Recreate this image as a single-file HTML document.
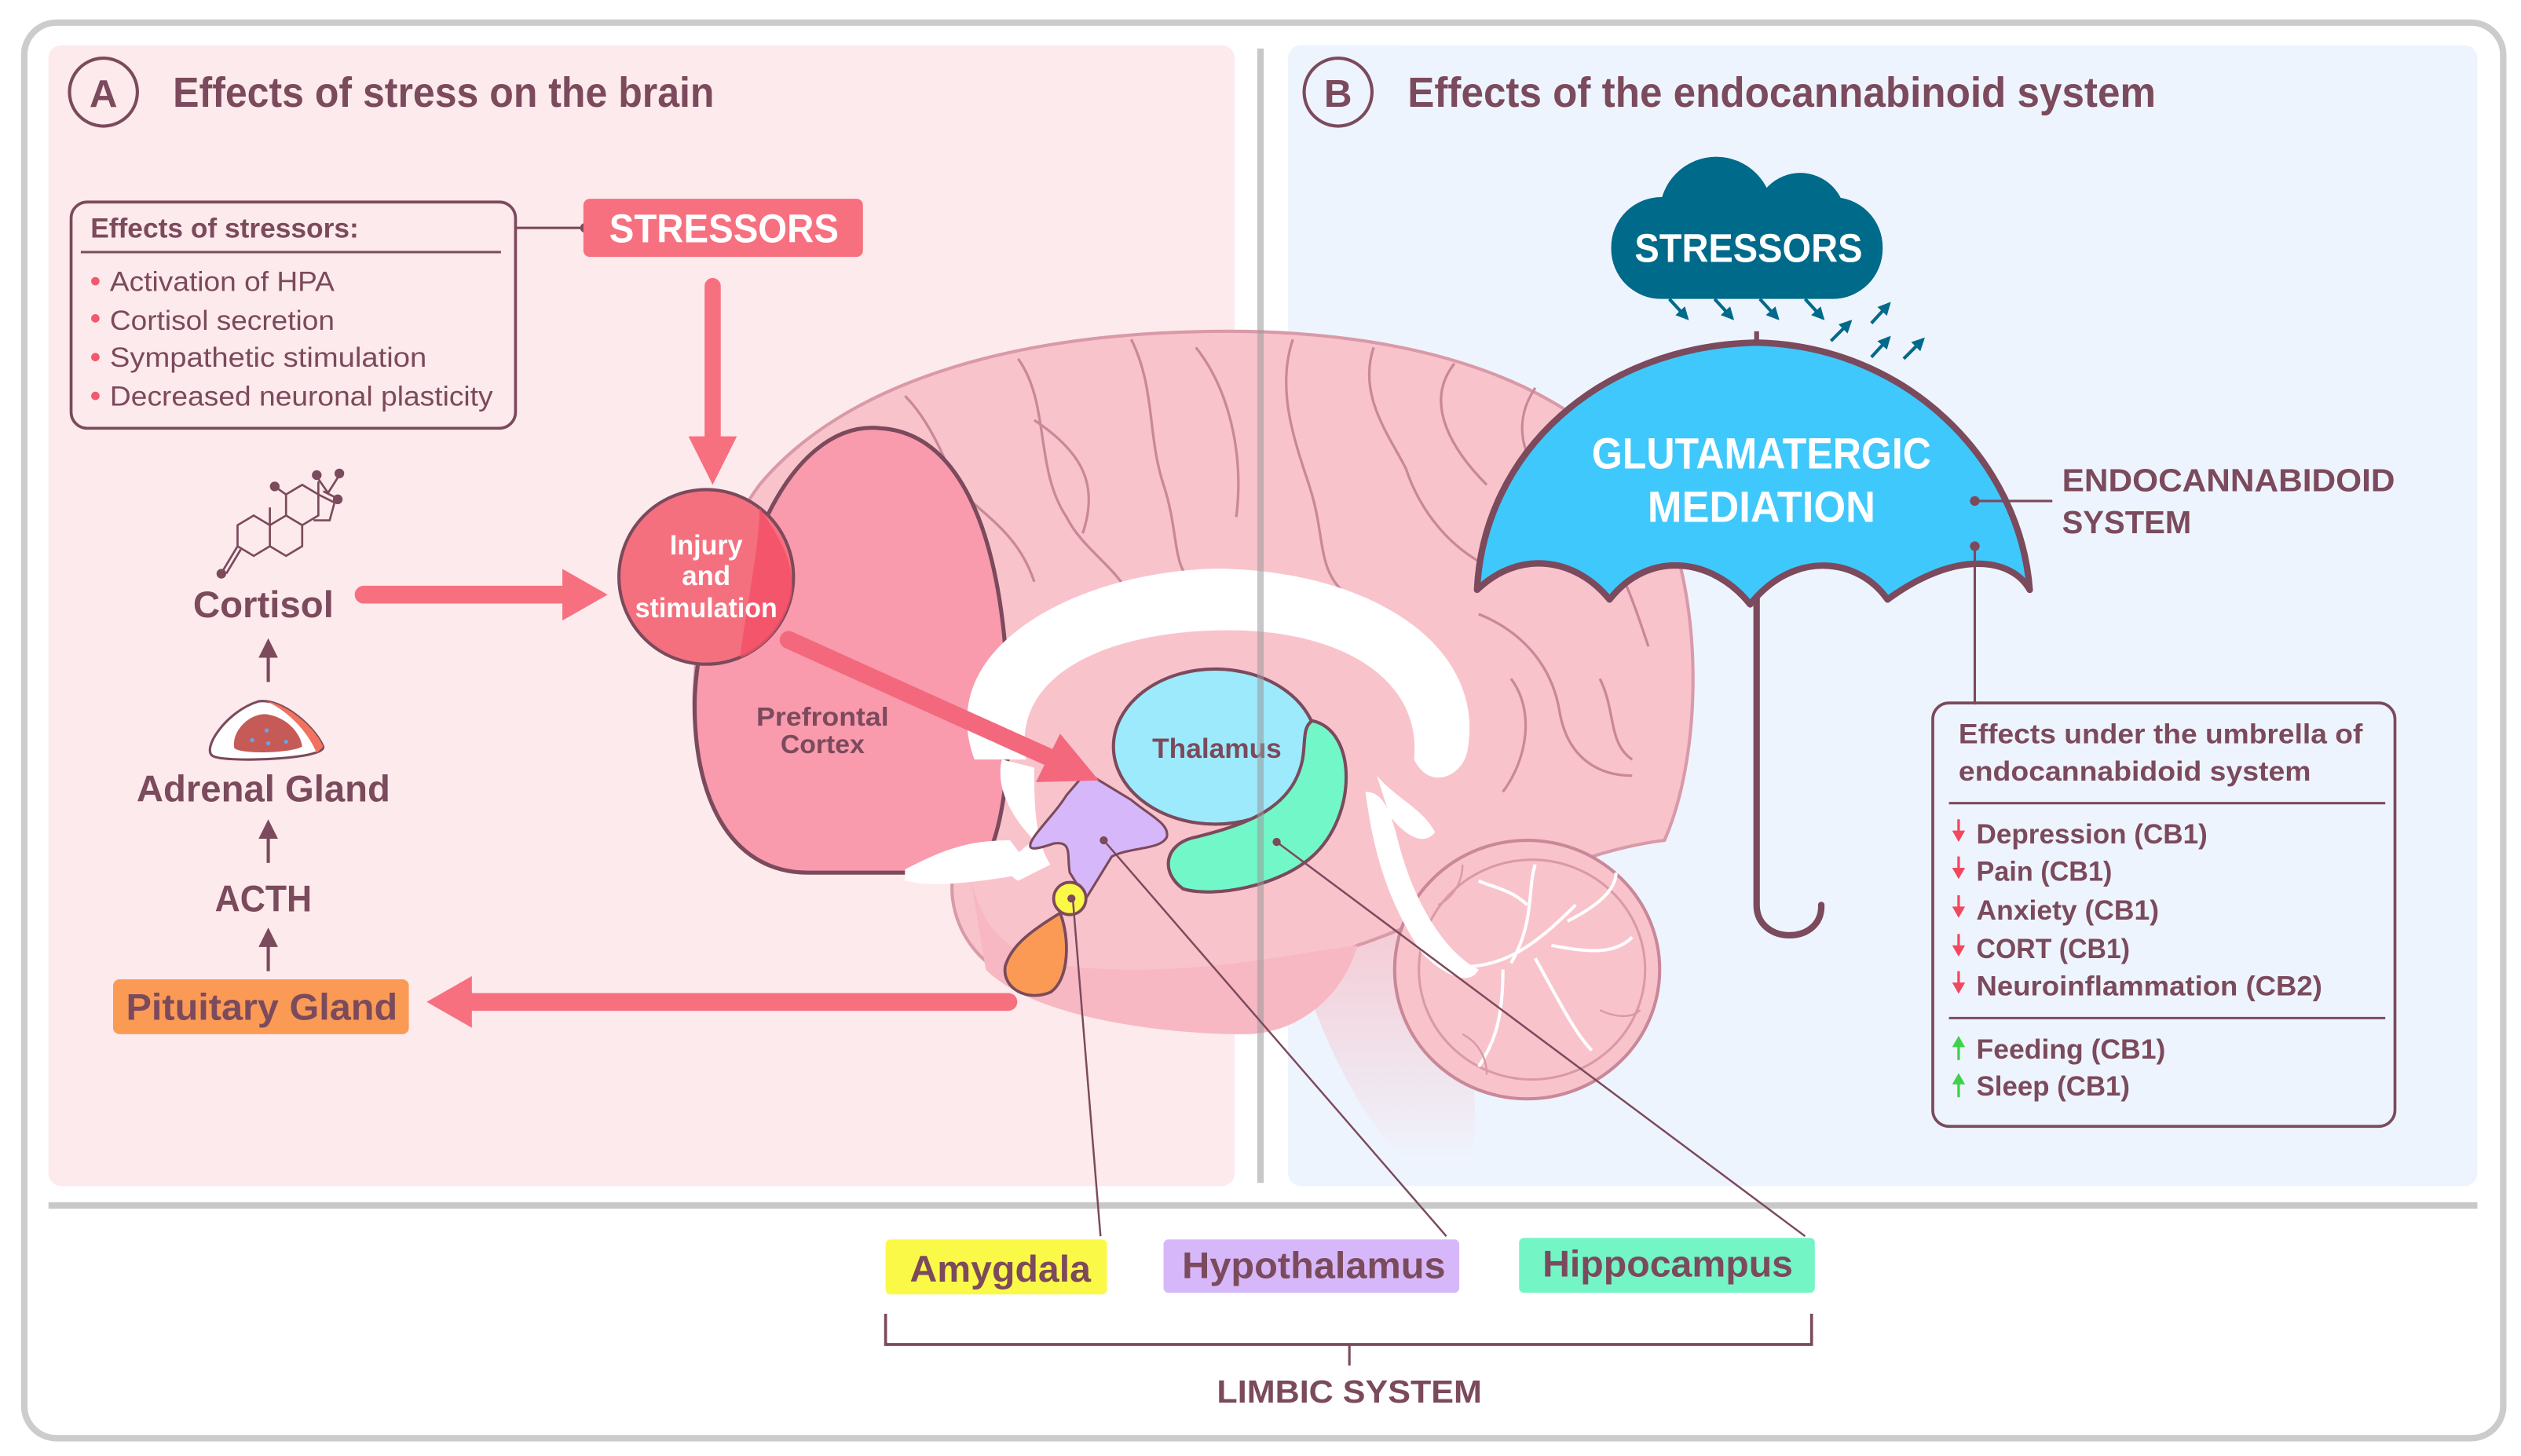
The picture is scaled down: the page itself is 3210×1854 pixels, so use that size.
<!DOCTYPE html>
<html><head><meta charset="utf-8"><style>
html,body{margin:0;padding:0;background:#fff}
svg{display:block}
text{font-family:"Liberation Sans",sans-serif;fill:#7b4a5c;font-weight:bold}
</style></head><body>
<svg width="3210" height="1854" viewBox="0 0 1560 901" xmlns="http://www.w3.org/2000/svg">
<defs>
<marker id="ta" viewBox="0 0 10 10" refX="8" refY="5" markerWidth="4" markerHeight="4" orient="auto"><path d="M0,0 L10,5 L0,10 Z" fill="#006a8a"/></marker>
<linearGradient id="bs" x1="0" y1="0" x2="0" y2="1"><stop offset="0" stop-color="#f6c2cc"/><stop offset="1" stop-color="#f6c2cc" stop-opacity="0"/></linearGradient>
</defs>
<rect x="0" y="0" width="1560" height="901" fill="#fff"/>
<rect x="15" y="14" width="1534" height="876" rx="20" fill="#fff" stroke="#cccccc" stroke-width="4"/>
<rect x="30" y="28" width="734" height="706" rx="8" fill="#fdeaec"/>
<rect x="797" y="28" width="736" height="706" rx="8" fill="#eef4fd"/>
<line x1="30" y1="746" x2="1533" y2="746" stroke="#c8c8c8" stroke-width="4"/>

<!-- titles -->
<circle cx="64" cy="57" r="21" fill="none" stroke="#7b4a5c" stroke-width="2"/>
<text x="64" y="66" font-size="24" text-anchor="middle" font-weight="normal">A</text>
<text x="107" y="66" font-size="26" textLength="335" lengthAdjust="spacingAndGlyphs">Effects of stress on the brain</text>
<circle cx="828" cy="57" r="21" fill="none" stroke="#7b4a5c" stroke-width="2"/>
<text x="828" y="66" font-size="24" text-anchor="middle" font-weight="normal">B</text>
<text x="871" y="66" font-size="26" textLength="463" lengthAdjust="spacingAndGlyphs">Effects of the endocannabinoid system</text>

<!-- effects of stressors box -->
<rect x="44" y="125" width="275" height="140" rx="10" fill="none" stroke="#7b4a5c" stroke-width="1.8"/>
<text x="56" y="147" font-size="17" textLength="166" lengthAdjust="spacingAndGlyphs">Effects of stressors:</text>
<line x1="50" y1="156" x2="310" y2="156" stroke="#7b4a5c" stroke-width="1.5"/>
<g font-size="17">
<circle cx="59" cy="174" r="2.6" fill="#f2596f"/><text x="68" y="180" font-weight="normal" style="font-weight:500" textLength="139" lengthAdjust="spacingAndGlyphs">Activation of HPA</text>
<circle cx="59" cy="197" r="2.6" fill="#f2596f"/><text x="68" y="204" textLength="139" lengthAdjust="spacingAndGlyphs" style="font-weight:500">Cortisol secretion</text>
<circle cx="59" cy="221" r="2.6" fill="#f2596f"/><text x="68" y="227" textLength="196" lengthAdjust="spacingAndGlyphs" style="font-weight:500">Sympathetic stimulation</text>
<circle cx="59" cy="245" r="2.6" fill="#f2596f"/><text x="68" y="251" textLength="237" lengthAdjust="spacingAndGlyphs" style="font-weight:500">Decreased neuronal plasticity</text>
</g>
<line x1="319" y1="141" x2="362" y2="141" stroke="#7b4a5c" stroke-width="1.5"/>
<circle cx="362" cy="141" r="3" fill="#7b4a5c"/>
<rect x="361" y="123" width="173" height="36" rx="4" fill="#f7707f"/>
<text x="448" y="150" font-size="25" text-anchor="middle" style="fill:#fff" textLength="142" lengthAdjust="spacingAndGlyphs">STRESSORS</text>

<!-- down arrow -->
<line x1="441" y1="177" x2="441" y2="272" stroke="#f7707f" stroke-width="10" stroke-linecap="round"/>
<polygon points="426,270 456,270 441,300" fill="#f7707f"/>

<!-- cortisol column -->
<g stroke="#7b4a5c" stroke-width="1.3" fill="none">
<polyline points="147,338 147,325 157,319 167,325 167,338 157,344 147,338"/>
<polyline points="167,325 177,319 187,325 187,338 177,344 167,338"/>
<polyline points="177,319 177,306 187,300 197,306 197,319 187,325"/>
<polyline points="197,306 207,311 204,322 194,322"/>
<line x1="147" y1="338" x2="138" y2="353"/><line x1="149" y1="340" x2="140" y2="355"/>
<line x1="167" y1="325" x2="167" y2="314"/><line x1="177" y1="306" x2="170" y2="301"/>
<line x1="197" y1="306" x2="197" y2="298"/><line x1="200" y1="304" x2="208" y2="308"/>
<line x1="203" y1="305" x2="196" y2="295"/><line x1="203" y1="305" x2="210" y2="294"/>
</g>
<g fill="#7b4a5c"><circle cx="137" cy="355" r="3"/><circle cx="170" cy="301" r="3"/><circle cx="196" cy="294" r="3"/><circle cx="210" cy="293" r="3"/><circle cx="209" cy="309" r="3"/></g>
<text x="163" y="382" font-size="23" text-anchor="middle" textLength="87" lengthAdjust="spacingAndGlyphs">Cortisol</text>
<line x1="166" y1="422" x2="166" y2="404" stroke="#7b4a5c" stroke-width="2"/>
<polygon points="160,407 172,407 166,395" fill="#7b4a5c"/>
<path d="M132,468 C124,464 140,440 160,434 C175,432 195,450 200,462 C202,470 140,472 132,468 Z" fill="#fff" stroke="#7b4a5c" stroke-width="1.5"/>
<path d="M165,434 C178,436 195,450 200,462 L196,466 C190,452 178,440 165,434 Z" fill="#f0725f"/>
<path d="M145,463 C143,452 155,441 165,442 C178,444 186,454 187,462 C180,466 150,467 145,463 Z" fill="#c55a56"/>
<g fill="#6fa0e8"><circle cx="156" cy="458" r="1.3"/><circle cx="165" cy="452" r="1.3"/><circle cx="166" cy="460" r="1.3"/><circle cx="177" cy="459" r="1.3"/></g>
<text x="163" y="496" font-size="23" text-anchor="middle" textLength="157" lengthAdjust="spacingAndGlyphs">Adrenal Gland</text>
<line x1="166" y1="534" x2="166" y2="516" stroke="#7b4a5c" stroke-width="2"/>
<polygon points="160,519 172,519 166,507" fill="#7b4a5c"/>
<text x="163" y="564" font-size="23" text-anchor="middle" textLength="60" lengthAdjust="spacingAndGlyphs">ACTH</text>
<line x1="166" y1="601" x2="166" y2="583" stroke="#7b4a5c" stroke-width="2"/>
<polygon points="160,586 172,586 166,574" fill="#7b4a5c"/>
<rect x="70" y="606" width="183" height="34" rx="4" fill="#fa9a55"/>
<text x="162" y="631" font-size="23" text-anchor="middle" textLength="168" lengthAdjust="spacingAndGlyphs">Pituitary Gland</text>

<!-- cortisol arrow -->
<line x1="225" y1="368" x2="352" y2="368" stroke="#f7707f" stroke-width="11" stroke-linecap="round"/>
<polygon points="348,352 348,384 376,368" fill="#f7707f"/>
<!-- pituitary arrow -->
<line x1="624" y1="620" x2="288" y2="620" stroke="#f7707f" stroke-width="11" stroke-linecap="round"/>
<polygon points="292,604 292,636 264,620" fill="#f7707f"/>

<!-- BRAIN -->
<path d="M790,540 C800,600 830,680 870,720 L910,720 C920,660 900,580 870,540 Z" fill="url(#bs)"/>
<path d="M470,300 C520,240 620,205 760,205 C880,205 990,238 1030,320 C1055,380 1052,470 1030,520 C990,525 960,540 940,545 C900,560 870,575 840,585 C790,610 720,620 650,612 C600,605 585,565 590,540 L520,540 C450,540 425,480 430,420 C432,370 448,330 470,300 Z" fill="#f9c3cc" stroke="#d99aa8" stroke-width="2"/>
<path d="M600,540 C610,590 640,600 700,600 C760,600 800,590 840,585 C830,620 800,640 770,640 C720,640 640,630 610,600 Z" fill="#f7b8c3"/>
<g fill="none" stroke="#c98898" stroke-width="1.6">
<path d="M560,245 C575,260 590,290 600,330"/>
<path d="M630,222 C650,250 640,290 660,320 C670,340 690,350 700,370"/>
<path d="M700,210 C715,240 710,270 720,300 C730,330 725,355 740,360"/>
<path d="M740,215 C760,240 770,280 765,320"/>
<path d="M800,210 C790,240 800,270 810,300 C820,330 815,350 830,365"/>
<path d="M850,215 C840,245 860,270 870,290 C880,320 900,340 920,350"/>
<path d="M900,225 C880,250 900,280 920,300"/>
<path d="M950,240 C930,270 950,300 980,320 C1000,340 1010,370 1020,400"/>
<path d="M1000,280 C985,300 1000,330 1020,340"/>
<path d="M915,380 C940,390 960,410 965,440 C970,470 990,480 1010,480"/>
<path d="M935,420 C950,440 945,470 930,490"/>
<path d="M990,420 C1000,440 995,460 1010,470"/>
<path d="M640,260 C670,280 680,300 670,330"/>
<path d="M590,300 C610,320 630,330 640,360"/>
</g>
<!-- cerebellum -->
<ellipse cx="945" cy="600" rx="82" ry="80" fill="#f9c3cc" stroke="#c98898" stroke-width="2"/>
<ellipse cx="948" cy="600" rx="70" ry="68" fill="none" stroke="#d99aa8" stroke-width="1.5"/>
<g fill="none" stroke="#fff" stroke-width="2">
<path d="M900,598 C930,600 950,585 975,560"/><path d="M935,596 C950,570 945,550 950,535"/><path d="M960,585 C985,590 1000,590 1010,580"/><path d="M950,593 C965,620 975,640 985,650"/><path d="M930,600 C930,630 925,645 915,660"/><path d="M945,560 C935,550 920,548 915,545"/><path d="M970,570 C990,560 1000,550 1000,540"/>
</g>
<g fill="none" stroke="#d99aa8" stroke-width="1.2">
<path d="M890,560 C900,555 905,545 905,535"/><path d="M990,625 C1000,630 1010,630 1015,625"/><path d="M905,640 C915,645 920,655 920,665"/>
</g>
<path d="M845,490 C850,530 860,560 880,590 C895,605 910,610 915,600 C895,590 875,560 865,520 C860,500 855,490 845,490 Z" fill="#fff"/>
<!-- prefrontal -->
<path d="M470,330 C490,282 518,262 545,265 C590,268 615,320 622,400 C628,460 622,520 605,540 L500,540 C450,540 428,490 430,430 C432,385 450,352 470,330 Z" fill="#f99aad" stroke="#7b4a5c" stroke-width="2.5"/>
<path d="M560,538 C585,525 600,520 625,520 L640,540 C610,545 580,550 560,545 Z" fill="#fff"/>
<!-- corpus callosum -->
<path d="M603,470 C575,395 680,350 760,352 C850,355 920,400 908,465 C905,480 885,490 875,470 C880,420 830,390 760,390 C690,390 625,415 635,470 Z" fill="#fff"/>
<path d="M620,470 C615,490 630,510 640,520 C625,530 620,540 630,545 L650,535 C640,520 640,495 640,475 Z" fill="#fff"/>
<path d="M852,480 C865,495 880,500 888,515 C880,525 868,515 860,505 Z" fill="#fff"/>
<!-- thalamus -->
<ellipse cx="752" cy="462" rx="63" ry="48" fill="#9deafc" stroke="#7b4a5c" stroke-width="2"/>
<text x="753" y="469" font-size="17" text-anchor="middle" textLength="80" lengthAdjust="spacingAndGlyphs">Thalamus</text>
<!-- hippocampus -->
<path d="M812,446 C840,452 840,505 812,530 C792,548 752,556 732,550 C718,540 720,522 740,518 C772,510 800,500 806,470 C808,458 806,450 812,446 Z" fill="#72f7c8" stroke="#7b4a5c" stroke-width="2"/>
<!-- hypothalamus -->
<path d="M672,478 L700,495 C712,505 724,510 722,518 C718,526 700,524 688,530 L672,556 L662,540 C660,530 664,520 652,522 C640,526 632,528 642,515 C650,505 655,500 660,492 Z" fill="#d6b8fa" stroke="#7b4a5c" stroke-width="1.5"/>
<!-- pituitary -->
<path d="M656,565 C640,575 626,584 622,598 C620,612 636,620 650,614 C662,606 662,580 656,565 Z" fill="#fa9a55" stroke="#7b4a5c" stroke-width="1.8"/>
<!-- amygdala -->
<circle cx="662" cy="556" r="10" fill="#fbf948" stroke="#7b4a5c" stroke-width="1.8"/>
<circle cx="663" cy="556" r="2.5" fill="#7b4a5c"/>

<!-- injury circle -->
<circle cx="437" cy="357" r="54" fill="#f5707f" stroke="#7b4a5c" stroke-width="2"/>
<path d="M470,314 C480,330 492,345 490,368 C485,390 470,403 458,407 C460,385 470,340 470,314 Z" fill="#f54f66" opacity="0.8"/>
<g font-size="17" text-anchor="middle" style="font-weight:500">
<text x="437" y="343" style="fill:#fff" textLength="45" lengthAdjust="spacingAndGlyphs">Injury</text>
<text x="437" y="362" style="fill:#fff" textLength="30" lengthAdjust="spacingAndGlyphs">and</text>
<text x="437" y="382" style="fill:#fff" textLength="88" lengthAdjust="spacingAndGlyphs">stimulation</text>
</g>
<text x="509" y="449" font-size="16" text-anchor="middle" textLength="82" lengthAdjust="spacingAndGlyphs">Prefrontal</text>
<text x="509" y="466" font-size="16" text-anchor="middle" textLength="52" lengthAdjust="spacingAndGlyphs">Cortex</text>
<!-- arrow to hypothalamus -->
<line x1="488" y1="396" x2="650" y2="469" stroke="#f3687c" stroke-width="11" stroke-linecap="round"/>
<polygon points="641,484 656,454 680,483" fill="#f3687c"/>

<!-- divider -->
<line x1="780" y1="30" x2="780" y2="732" stroke="#999" stroke-opacity="0.55" stroke-width="4"/>

<!-- leader lines -->
<g stroke="#7b4a5c" stroke-width="1.2" fill="none">
<line x1="664" y1="558" x2="681" y2="765"/>
<line x1="683" y1="520" x2="895" y2="765"/>
<line x1="790" y1="521" x2="1117" y2="765"/>
</g>
<circle cx="683" cy="520" r="2.5" fill="#7b4a5c"/><circle cx="790" cy="521" r="2.5" fill="#7b4a5c"/>

<!-- umbrella -->
<path d="M1087,365 L1087,560 C1087,585 1128,585 1127,560" fill="none" stroke="#7b4a5c" stroke-width="4" stroke-linecap="round"/>
<line x1="1087" y1="205" x2="1087" y2="214" stroke="#7b4a5c" stroke-width="3"/>
<path d="M914,365 C918,280 990,214 1087,212 C1180,214 1250,285 1256,365 C1245,345 1210,340 1168,371 C1150,345 1110,340 1083,374 C1060,345 1020,340 996,371 C975,345 940,340 914,365 Z" fill="#3fc8fb" stroke="#7b4a5c" stroke-width="4" stroke-linejoin="round"/>
<text x="1090" y="290" font-size="27" text-anchor="middle" style="fill:#fff" textLength="210" lengthAdjust="spacingAndGlyphs">GLUTAMATERGIC</text>
<text x="1090" y="323" font-size="27" text-anchor="middle" style="fill:#fff" textLength="141" lengthAdjust="spacingAndGlyphs">MEDIATION</text>
<line x1="1222" y1="310" x2="1270" y2="310" stroke="#7b4a5c" stroke-width="1.5"/>
<circle cx="1222" cy="310" r="3" fill="#7b4a5c"/>
<line x1="1222" y1="338" x2="1222" y2="436" stroke="#7b4a5c" stroke-width="1.5"/>
<circle cx="1222" cy="338" r="3" fill="#7b4a5c"/>
<text x="1276" y="304" font-size="20" textLength="206" lengthAdjust="spacingAndGlyphs">ENDOCANNABIDOID</text>
<text x="1276" y="330" font-size="20" textLength="80" lengthAdjust="spacingAndGlyphs">SYSTEM</text>

<!-- cloud -->
<g fill="#006a8a">
<circle cx="1062" cy="132" r="35"/><circle cx="1114" cy="135" r="28"/>
<rect x="997" y="122" width="168" height="63" rx="31"/>
</g>
<text x="1082" y="162" font-size="25" text-anchor="middle" style="fill:#fff" textLength="141" lengthAdjust="spacingAndGlyphs">STRESSORS</text>
<g stroke="#006a8a" stroke-width="2" marker-end="url(#ta)">
<line x1="1033" y1="185" x2="1044" y2="197"/><line x1="1061" y1="185" x2="1072" y2="197"/><line x1="1089" y1="185" x2="1100" y2="197"/><line x1="1117" y1="185" x2="1128" y2="197"/>
<line x1="1133" y1="211" x2="1145" y2="199"/><line x1="1158" y1="200" x2="1169" y2="188"/><line x1="1158" y1="221" x2="1169" y2="209"/><line x1="1178" y1="222" x2="1190" y2="210"/>
</g>

<!-- effects under umbrella box -->
<rect x="1196" y="435" width="286" height="262" rx="10" fill="none" stroke="#7b4a5c" stroke-width="1.8"/>
<text x="1212" y="460" font-size="17" textLength="250" lengthAdjust="spacingAndGlyphs">Effects under the umbrella of</text>
<text x="1212" y="483" font-size="17" textLength="218" lengthAdjust="spacingAndGlyphs">endocannabidoid system</text>
<line x1="1206" y1="497" x2="1476" y2="497" stroke="#7b4a5c" stroke-width="1.5"/>
<line x1="1206" y1="630" x2="1476" y2="630" stroke="#7b4a5c" stroke-width="1.5"/>
<g style="font-weight:500" font-size="17">
<text x="1223" y="522" textLength="143" lengthAdjust="spacingAndGlyphs">Depression (CB1)</text>
<text x="1223" y="545" textLength="84" lengthAdjust="spacingAndGlyphs">Pain (CB1)</text>
<text x="1223" y="569" textLength="113" lengthAdjust="spacingAndGlyphs">Anxiety (CB1)</text>
<text x="1223" y="593" textLength="95" lengthAdjust="spacingAndGlyphs">CORT (CB1)</text>
<text x="1223" y="616" textLength="214" lengthAdjust="spacingAndGlyphs">Neuroinflammation (CB2)</text>
<text x="1223" y="655" textLength="117" lengthAdjust="spacingAndGlyphs">Feeding (CB1)</text>
<text x="1223" y="678" textLength="95" lengthAdjust="spacingAndGlyphs">Sleep (CB1)</text>
</g>
<g fill="#f2485f" stroke="#f2485f" stroke-width="1.6">
<line x1="1212" y1="507" x2="1212" y2="516"/><polygon points="1208,514 1216,514 1212,521" stroke="none"/>
<line x1="1212" y1="530" x2="1212" y2="539"/><polygon points="1208,537 1216,537 1212,544" stroke="none"/>
<line x1="1212" y1="554" x2="1212" y2="563"/><polygon points="1208,561 1216,561 1212,568" stroke="none"/>
<line x1="1212" y1="578" x2="1212" y2="587"/><polygon points="1208,585 1216,585 1212,592" stroke="none"/>
<line x1="1212" y1="601" x2="1212" y2="610"/><polygon points="1208,608 1216,608 1212,615" stroke="none"/>
</g>
<g fill="#3ed24a" stroke="#3ed24a" stroke-width="1.6">
<line x1="1212" y1="647" x2="1212" y2="656"/><polygon points="1208,648 1216,648 1212,641" stroke="none"/>
<line x1="1212" y1="670" x2="1212" y2="679"/><polygon points="1208,671 1216,671 1212,664" stroke="none"/>
</g>

<!-- labels -->
<rect x="548" y="767" width="137" height="34" rx="3" fill="#fbf948"/>
<text x="619" y="793" font-size="23" text-anchor="middle" textLength="112" lengthAdjust="spacingAndGlyphs">Amygdala</text>
<rect x="720" y="767" width="183" height="33" rx="3" fill="#d6b8fa"/>
<text x="813" y="791" font-size="23" text-anchor="middle" textLength="163" lengthAdjust="spacingAndGlyphs">Hypothalamus</text>
<rect x="940" y="766" width="183" height="34" rx="3" fill="#73f5c6"/>
<text x="1032" y="790" font-size="23" text-anchor="middle" textLength="155" lengthAdjust="spacingAndGlyphs">Hippocampus</text>
<path d="M548,813 L548,832 L1121,832 L1121,813" fill="none" stroke="#7b4a5c" stroke-width="1.8"/>
<line x1="835" y1="832" x2="835" y2="845" stroke="#7b4a5c" stroke-width="1.5"/>
<text x="835" y="868" font-size="20" text-anchor="middle" textLength="164" lengthAdjust="spacingAndGlyphs">LIMBIC SYSTEM</text>
</svg>
</body></html>
